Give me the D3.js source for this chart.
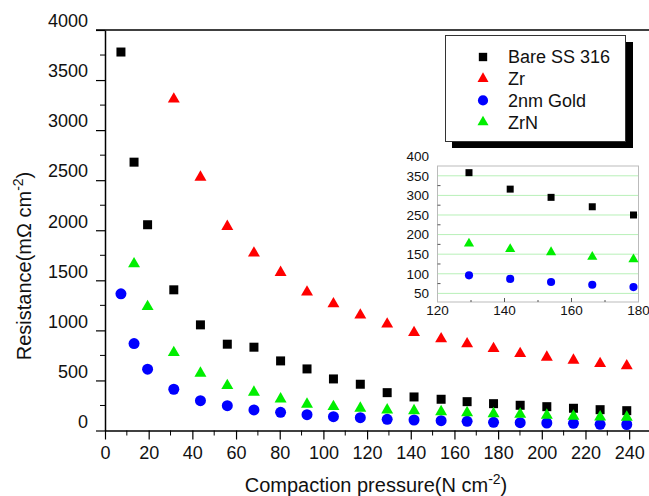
<!DOCTYPE html>
<html>
<head>
<meta charset="utf-8">
<script src="https://cdn.jsdelivr.net/npm/d3@7"></script>
<style>
  body { margin: 0; background: #fff; }
  svg { display: block; font-family: Arial, "Liberation Sans", sans-serif; }
</style>
</head>
<body>
<div id="main-diagram"></div>
<script>
// values
const pressure = [7.3, 13.3, 19.5, 31.5, 43.7, 56, 68.2, 80.4, 92.5, 104.6, 116.9, 129.2, 141.5, 153.9, 165.8, 177.9, 190.1, 202.3, 214.5, 226.7, 238.9]
const bare = [3780, 2680, 2055, 1405, 1055, 862, 832, 695, 615, 515, 462, 378, 335, 312, 288, 268, 252, 238, 222, 208, 198]
const zr = [null, null, null, 3310, 2530, 2038, 1772, 1578, 1382, 1265, 1152, 1062, 978, 915, 865, 818, 768, 732, 702, 668, 645]
const gold = [1365, 868, 612, 412, 298, 248, 205, 182, 158, 138, 128, 112, 105, 98, 92, 82, 78, 75, 72, 62, 60]
const zrn = [null, 1665, 1238, 778, 572, 448, 382, 315, 262, 238, 222, 205, 198, 188, 178, 168, 162, 152, 142, 135, 132]

const insetPressure = [129.4, 141.7, 153.9, 166.2, 178.5]
const insetBare = [358, 316, 295, 271, 250]
const insetZrN = [177, 163, 155, 143, 137]
const insetGold = [96, 87, 79, 72, 66]

const xTicks = [0, 20, 40, 60, 80, 100, 120, 140, 160, 180, 200, 220, 240]
const yTicks = [0, 500, 1000, 1500, 2000, 2500, 3000, 3500, 4000]
const insetXTicks = [120, 140, 160, 180]
const insetYTicks = [50, 100, 150, 200, 250, 300, 350, 400]

const seriesNames = ['Bare SS 316', 'Zr', '2nm Gold', 'ZrN']

const width = 649, height = 496

const series = [
    { name: seriesNames[0], values: bare, color: '#000000', symbol: d3.symbolSquare, size: 81, inset: insetBare },
    { name: seriesNames[1], values: zr, color: '#ff0000', symbol: d3.symbolTriangle, size: 62, inset: null },
    { name: seriesNames[2], values: gold, color: '#0000ff', symbol: d3.symbolCircle, size: 95, inset: insetGold },
    { name: seriesNames[3], values: zrn, color: '#00ee00', symbol: d3.symbolTriangle, size: 62, inset: insetZrN }
]

const svg = d3.select('#main-diagram')
    .append('svg')
    .attr('width', width)
    .attr('height', height)

const x = d3.scaleLinear().domain([0, 250]).range([105, 651])
const y = d3.scaleLinear().domain([0, 4000]).range([430.5, 30])

// main axes
const xAxis = svg.append('g')
    .attr('transform', `translate(0, ${y(0)})`)
    .call(d3.axisBottom(x).tickValues(xTicks).tickSize(9).tickSizeOuter(0).tickPadding(7))
xAxis.append('g').selectAll('line')
    .data(d3.range(10, 251, 20))
    .enter()
    .append('line')
    .attr('x1', d => x(d)).attr('x2', d => x(d))
    .attr('y1', 0).attr('y2', 5)
    .attr('stroke', '#000')

const yAxis = svg.append('g')
    .attr('transform', `translate(${x(0)}, 0)`)
    .call(d3.axisLeft(y).tickValues(yTicks).tickFormat(d3.format('d')).tickSize(9).tickSizeOuter(0).tickPadding(8))
yAxis.append('g').selectAll('line')
    .data(d3.range(250, 4000, 500))
    .enter()
    .append('line')
    .attr('y1', d => y(d)).attr('y2', d => y(d))
    .attr('x1', 0).attr('x2', -5)
    .attr('stroke', '#000')

svg.selectAll('.domain').attr('stroke', '#000').attr('stroke-width', 1.5)
svg.selectAll('.tick line').attr('stroke', '#000').attr('stroke-width', 1.2)

xAxis.selectAll('.tick text')
    .attr('font-size', 18)
    .attr('fill', '#111')
    .attr('font-family', 'Arial, "Liberation Sans", sans-serif')
yAxis.selectAll('.tick text')
    .attr('font-size', 18)
    .attr('fill', '#111')
    .attr('dy', '-0.18em')
    .attr('font-family', 'Arial, "Liberation Sans", sans-serif')

// top frame line
svg.append('line')
    .attr('x1', x(0) - 9).attr('x2', width)
    .attr('y1', y(4000)).attr('y2', y(4000))
    .attr('stroke', '#000').attr('stroke-width', 1.5)

// axis titles
const xTitle = svg.append('text')
    .attr('x', 376).attr('y', 492)
    .attr('text-anchor', 'middle')
    .attr('font-size', 20)
    .attr('fill', '#111')
xTitle.append('tspan').text('Compaction pressure(N cm')
xTitle.append('tspan').attr('dy', -8).attr('font-size', 14).text('-2')
xTitle.append('tspan').attr('dy', 8).text(')')

const yTitle = svg.append('text')
    .attr('transform', 'translate(31, 266) rotate(-90)')
    .attr('text-anchor', 'middle')
    .attr('font-size', 20)
    .attr('fill', '#111')
yTitle.append('tspan').text('Resistance(mΩ cm')
yTitle.append('tspan').attr('dy', -8).attr('font-size', 14).text('-2')
yTitle.append('tspan').attr('dy', 8).text(')')

// points
series.forEach(s => {
    svg.append('g')
        .selectAll('path')
        .data(pressure.map((p, i) => ({ p: p, v: s.values[i] })).filter(d => d.v !== null))
        .enter()
        .append('path')
        .attr('d', d3.symbol().type(s.symbol).size(s.size))
        .attr('transform', d => `translate(${x(d.p)}, ${y(d.v)})`)
        .attr('fill', s.color)
})

// legend
const legend = svg.append('g')
legend.append('rect')
    .attr('x', 452).attr('y', 42).attr('width', 181).attr('height', 106)
    .attr('fill', '#000')
legend.append('rect')
    .attr('x', 445.5).attr('y', 35.5).attr('width', 180).attr('height', 106)
    .attr('fill', '#fff').attr('stroke', '#333').attr('stroke-width', 1)
series.forEach((s, i) => {
    const ly = 57 + i * 21.7
    legend.append('path')
        .attr('d', d3.symbol().type(s.symbol).size(s.symbol === d3.symbolSquare ? 70 : s.size * 0.85))
        .attr('transform', `translate(483, ${ly})`)
        .attr('fill', s.color)
    legend.append('text')
        .attr('x', 508).attr('y', ly)
        .attr('dy', '0.36em')
        .attr('font-size', 18)
        .attr('fill', '#111')
        .text(s.name)
})

// inset
const ix = d3.scaleLinear().domain([120, 180]).range([437.5, 638.5])
const iy = d3.scaleLinear().domain([28, 375]).range([302, 166])
const inset = svg.append('g')

inset.append('g').selectAll('line')
    .data(insetYTicks.filter(d => d < 375))
    .enter()
    .append('line')
    .attr('x1', ix(120)).attr('x2', ix(180))
    .attr('y1', d => iy(d)).attr('y2', d => iy(d))
    .attr('stroke', '#b8f0b8').attr('stroke-width', 1)

inset.append('rect')
    .attr('x', ix(120)).attr('y', iy(375))
    .attr('width', ix(180) - ix(120)).attr('height', iy(28) - iy(375))
    .attr('fill', 'none').attr('stroke', '#bbb').attr('stroke-width', 1)

inset.append('g').selectAll('line')
    .data(d3.range(75, 375, 50))
    .enter()
    .append('line')
    .attr('x1', ix(120)).attr('x2', ix(120) + 3)
    .attr('y1', d => iy(d)).attr('y2', d => iy(d))
    .attr('stroke', '#555')
inset.append('g').selectAll('line')
    .data([130, 140, 150, 160, 170])
    .enter()
    .append('line')
    .attr('x1', d => ix(d)).attr('x2', d => ix(d))
    .attr('y1', iy(28)).attr('y2', d => iy(28) - (d % 20 === 0 ? 4 : 2))
    .attr('stroke', '#555')

inset.append('g').selectAll('text')
    .data(insetYTicks)
    .enter()
    .append('text')
    .attr('x', 429).attr('y', d => iy(d))
    .attr('dy', '0.35em')
    .attr('text-anchor', 'end')
    .attr('font-size', 13.5)
    .attr('fill', '#111')
    .text(d => d)
inset.append('g').selectAll('text')
    .data(insetXTicks)
    .enter()
    .append('text')
    .attr('x', d => ix(d)).attr('y', 315)
    .attr('text-anchor', 'middle')
    .attr('font-size', 13.5)
    .attr('fill', '#111')
    .text(d => d)

series.filter(s => s.inset).forEach(s => {
    inset.append('g')
        .selectAll('path')
        .data(insetPressure.map((p, i) => ({ p: p, v: s.inset[i] })))
        .enter()
        .append('path')
        .attr('d', d3.symbol().type(s.symbol).size(s.symbol === d3.symbolSquare ? 49 : (s.symbol === d3.symbolCircle ? 52 : 45)))
        .attr('transform', d => `translate(${ix(d.p)}, ${iy(d.v)})`)
        .attr('fill', s.color)
})
</script>
</body>
</html>
